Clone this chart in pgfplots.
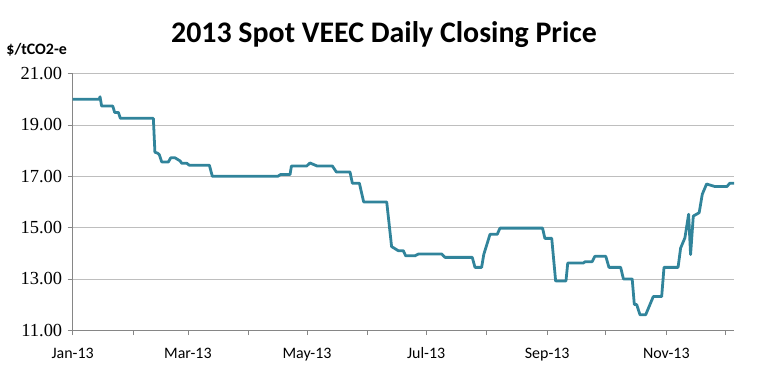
\documentclass[border=0pt]{standalone}
\usepackage{pgfplots}
\pgfplotsset{compat=1.18}
\usepackage{fontspec}
\setmainfont{Carlito}
\newfontfamily\serifnum{Liberation Serif}
\definecolor{lineteal}{RGB}{49,132,155}
\definecolor{axgray}{RGB}{134,134,134}
\definecolor{gridgray}{RGB}{190,190,190}
\begin{document}
\begin{tikzpicture}[x=1bp,y=1bp]
\path[use as bounding box] (0,0) rectangle (768,376);
\begin{axis}[
  at={(72.7bp,45.8bp)}, anchor=south west,
  scale only axis, width=661.6bp, height=256.5bp,
  xmin=0, xmax=338.8, ymin=11, ymax=21,
  axis lines*=left,
  axis line style={axgray, line width=0.8pt},
  every tick/.style={axgray, line width=0.8pt},
  tick align=outside, major tick length=5bp,
  xtick={0,31,59,90,120,151,181,212,243,273,304,334},
  xticklabels={Jan-13,,Mar-13,,May-13,,Jul-13,,Sep-13,,Nov-13,},
  xticklabel style={font=\fontsize{16}{16}\selectfont, yshift=-9bp},
  ytick={11,13,15,17,19,21},
  yticklabel style={font=\serifnum\fontsize{18.5}{18.5}\selectfont, xshift=-2bp,
    /pgf/number format/.cd, fixed, fixed zerofill, precision=2, assume math mode=true},
  ymajorgrids, grid style={gridgray, line width=0.8pt},
  title={2013 Spot VEEC Daily Closing Price},
  title style={font=\bfseries\fontsize{30}{30}\selectfont, at={(rel axis cs:0.4705,1)}, anchor=center, yshift=33bp},
  ylabel={\$/tCO2-e},
  ylabel style={rotate=-90, font=\bfseries\fontsize{16}{16}\selectfont, at={(rel axis cs:0,1)}, anchor=center, xshift=-36bp, yshift=24bp},
  clip=false,
]
\addplot[lineteal, line width=2.8pt, line join=round] coordinates {
(0,20.00) (13.5,20.00) (14,20.10) (14.8,19.74) (20.5,19.74) (21.5,19.49) (23.4,19.49) (24.4,19.26)
(41.3,19.26) (42.1,17.94) (43.5,17.90) (44.3,17.85) (45.6,17.56) (49,17.56) (50.2,17.72) (52.4,17.72)
(55,17.60) (55.8,17.51) (58.4,17.51) (59.7,17.43) (70,17.43) (71.5,17.00) (105,17.00) (106.5,17.07)
(111.3,17.07) (112,17.40) (119.8,17.40) (121.5,17.52) (125.2,17.40) (133,17.40) (135,17.17) (142,17.17)
(143.2,16.73) (146.8,16.73) (149,16.00) (160.8,16.00) (163.3,14.26) (166.7,14.10) (169.3,14.10)
(170.5,13.90) (175.3,13.90) (177,13.97) (189,13.97) (190.6,13.84) (204.6,13.84) (206,13.45) (209.4,13.45)
(210.5,13.95) (213.7,14.74) (217.4,14.74) (218.8,14.98) (240.6,14.98) (241.8,14.58) (245.3,14.58)
(247.3,12.92) (252.6,12.92) (253.5,13.62) (261.5,13.62) (262.4,13.67) (266,13.67) (267.4,13.88)
(273,13.88) (274.6,13.45) (280.6,13.45) (282,13.00) (286.5,13.00) (287.6,12.00) (288.8,12.00)
(290.5,11.60) (293.4,11.60) (295.6,12.00) (297.3,12.31) (301.6,12.31) (302.8,13.45) (310,13.45)
(311.3,14.20) (313.5,14.60) (315.4,15.52) (316.4,13.95) (317.8,15.45) (320.8,15.58) (322.4,16.30)
(324.6,16.70) (328.9,16.60) (335,16.60) (336.5,16.73) (338.7,16.73)
};
\end{axis}
\end{tikzpicture}
\end{document}
